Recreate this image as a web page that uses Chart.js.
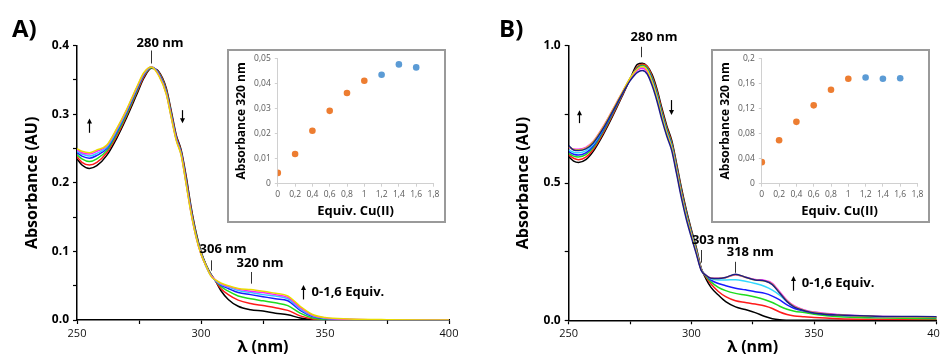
<!DOCTYPE html>
<html>
<head>
<meta charset="utf-8">
<script src="https://cdn.jsdelivr.net/npm/chart.js@4.4.1/dist/chart.umd.min.js"></script>
<style>
  html, body { margin: 0; padding: 0; background: #fff; overflow: hidden; width: 940px; height: 357px; }
  .pane { position: absolute; }
</style>
</head>
<body>
<div class="pane" style="left:0;top:0"><canvas id="mainA" width="470" height="357"></canvas></div>
<div class="pane" style="left:470px;top:0"><canvas id="mainB" width="490" height="357"></canvas></div>
<div class="pane" style="left:227px;top:49px"><canvas id="insetA" width="219" height="174"></canvas></div>
<div class="pane" style="left:711px;top:49px"><canvas id="insetB" width="219" height="174"></canvas></div>
<script>
// ---- panel A spectra (0 -> 1,6 equiv Cu(II)) ----
const wlA = [250, 252, 255, 258, 262, 266, 270, 274, 277, 280, 283, 286, 288, 290, 292, 294, 296, 298, 300, 302, 304, 306, 308, 311, 315, 320, 325, 330, 335, 340, 345, 350, 360, 375, 400];
const absA_black   = [0.235, 0.226, 0.221, 0.225, 0.240, 0.265, 0.295, 0.328, 0.353, 0.367, 0.362, 0.338, 0.305, 0.270, 0.248, 0.210, 0.165, 0.128, 0.100, 0.081, 0.067, 0.056, 0.043, 0.030, 0.020, 0.015, 0.013, 0.010, 0.0075, 0.003, 0.0005, 0, 0, 0, 0];
const absA_red     = [0.238, 0.230, 0.226, 0.230, 0.244, 0.268, 0.298, 0.331, 0.355, 0.368, 0.361, 0.336, 0.302, 0.268, 0.246, 0.207, 0.162, 0.126, 0.099, 0.080, 0.066, 0.056, 0.046, 0.037, 0.029, 0.024, 0.021, 0.018, 0.014, 0.006, 0.0015, 0.0005, 0, 0, 0];
const absA_green   = [0.241, 0.235, 0.231, 0.235, 0.247, 0.271, 0.300, 0.333, 0.357, 0.368, 0.360, 0.334, 0.300, 0.266, 0.244, 0.204, 0.160, 0.125, 0.098, 0.080, 0.066, 0.057, 0.049, 0.042, 0.035, 0.031, 0.028, 0.025, 0.021, 0.010, 0.003, 0.001, 0, 0, 0];
const absA_blue    = [0.244, 0.239, 0.236, 0.240, 0.250, 0.274, 0.303, 0.335, 0.358, 0.369, 0.359, 0.332, 0.298, 0.265, 0.243, 0.202, 0.158, 0.123, 0.097, 0.079, 0.065, 0.057, 0.051, 0.046, 0.040, 0.037, 0.034, 0.031, 0.028, 0.014, 0.005, 0.002, 0.0005, 0, 0];
const absA_cyan    = [0.246, 0.242, 0.239, 0.243, 0.252, 0.276, 0.305, 0.337, 0.359, 0.369, 0.358, 0.331, 0.297, 0.264, 0.242, 0.200, 0.157, 0.122, 0.097, 0.079, 0.065, 0.057, 0.052, 0.048, 0.043, 0.040, 0.037, 0.035, 0.031, 0.016, 0.006, 0.0025, 0.0008, 0, 0];
const absA_magenta = [0.248, 0.244, 0.242, 0.246, 0.254, 0.278, 0.306, 0.338, 0.360, 0.369, 0.357, 0.330, 0.296, 0.263, 0.241, 0.199, 0.156, 0.121, 0.096, 0.079, 0.065, 0.058, 0.053, 0.049, 0.045, 0.042, 0.040, 0.037, 0.033, 0.018, 0.007, 0.003, 0.001, 0, 0];
const absA_yellow  = [0.250, 0.246, 0.244, 0.248, 0.255, 0.279, 0.307, 0.339, 0.361, 0.369, 0.356, 0.329, 0.295, 0.262, 0.240, 0.198, 0.155, 0.121, 0.096, 0.079, 0.064, 0.058, 0.054, 0.050, 0.046, 0.0445, 0.042, 0.039, 0.035, 0.020, 0.008, 0.0035, 0.0015, 0.0005, 0];

// ---- panel B spectra ----
const wlB = [250, 252, 254, 257, 260, 264, 268, 272, 275, 278, 280, 282, 284, 286, 288, 290, 292, 294, 296, 298, 300, 302, 304, 306, 308, 311, 314, 318, 322, 326, 330, 333, 336, 339, 342, 346, 350, 360, 375, 400];
const absB_black   = [0.596, 0.580, 0.575, 0.585, 0.615, 0.675, 0.745, 0.820, 0.878, 0.932, 0.936, 0.925, 0.895, 0.842, 0.772, 0.708, 0.655, 0.570, 0.480, 0.400, 0.330, 0.265, 0.190, 0.150, 0.120, 0.092, 0.068, 0.049, 0.039, 0.028, 0.014, 0.006, 0.002, 0.0005, 0, 0, 0, 0, 0, 0];
const absB_red     = [0.602, 0.590, 0.585, 0.594, 0.622, 0.681, 0.750, 0.823, 0.879, 0.923, 0.932, 0.924, 0.888, 0.834, 0.764, 0.701, 0.648, 0.562, 0.472, 0.393, 0.324, 0.260, 0.188, 0.157, 0.132, 0.105, 0.086, 0.071, 0.065, 0.059, 0.052, 0.043, 0.030, 0.021, 0.016, 0.013, 0.010, 0.006, 0.004, 0.003];
const absB_green   = [0.608, 0.598, 0.595, 0.603, 0.629, 0.687, 0.755, 0.826, 0.880, 0.920, 0.929, 0.920, 0.882, 0.827, 0.757, 0.695, 0.642, 0.556, 0.466, 0.388, 0.320, 0.257, 0.187, 0.160, 0.140, 0.120, 0.108, 0.098, 0.092, 0.085, 0.075, 0.065, 0.051, 0.040, 0.033, 0.028, 0.022, 0.013, 0.009, 0.006];
const absB_blue    = [0.614, 0.605, 0.602, 0.610, 0.635, 0.692, 0.759, 0.828, 0.880, 0.917, 0.925, 0.915, 0.876, 0.820, 0.750, 0.689, 0.636, 0.550, 0.460, 0.383, 0.316, 0.253, 0.186, 0.163, 0.146, 0.134, 0.126, 0.117, 0.111, 0.104, 0.098, 0.088, 0.074, 0.056, 0.043, 0.034, 0.027, 0.018, 0.013, 0.010];
const absB_cyan    = [0.620, 0.612, 0.610, 0.617, 0.641, 0.697, 0.763, 0.830, 0.880, 0.914, 0.922, 0.911, 0.870, 0.814, 0.744, 0.684, 0.631, 0.545, 0.455, 0.378, 0.312, 0.250, 0.185, 0.164, 0.151, 0.147, 0.147, 0.148, 0.142, 0.134, 0.123, 0.110, 0.092, 0.068, 0.050, 0.037, 0.029, 0.020, 0.014, 0.011];
const absB_magenta = [0.628, 0.624, 0.623, 0.630, 0.652, 0.705, 0.768, 0.833, 0.880, 0.911, 0.918, 0.906, 0.864, 0.808, 0.738, 0.679, 0.626, 0.540, 0.451, 0.374, 0.309, 0.247, 0.184, 0.164, 0.154, 0.153, 0.156, 0.165, 0.157, 0.149, 0.145, 0.135, 0.104, 0.073, 0.052, 0.038, 0.030, 0.021, 0.015, 0.012];
const absB_yellow  = [0.632, 0.622, 0.620, 0.627, 0.650, 0.703, 0.767, 0.833, 0.882, 0.915, 0.924, 0.911, 0.868, 0.810, 0.740, 0.680, 0.627, 0.542, 0.452, 0.375, 0.310, 0.248, 0.184, 0.163, 0.153, 0.152, 0.156, 0.167, 0.157, 0.147, 0.143, 0.132, 0.100, 0.070, 0.050, 0.036, 0.028, 0.019, 0.014, 0.011];
const absB_navy    = [0.636, 0.620, 0.618, 0.624, 0.646, 0.698, 0.762, 0.827, 0.872, 0.903, 0.910, 0.897, 0.855, 0.798, 0.730, 0.670, 0.618, 0.532, 0.443, 0.366, 0.302, 0.242, 0.182, 0.163, 0.153, 0.152, 0.156, 0.168, 0.157, 0.147, 0.143, 0.130, 0.099, 0.068, 0.048, 0.035, 0.027, 0.019, 0.015, 0.013];

// ---- insets: absorbance at 320 nm vs equiv ----
const equiv = [0, 0.2, 0.4, 0.6, 0.8, 1.0, 1.2, 1.4, 1.6];
const insetA = [0.0043, 0.0118, 0.0211, 0.0290, 0.0361, 0.0410, 0.0434, 0.0475, 0.0463];
const insetB = [0.0343, 0.0692, 0.0985, 0.1248, 0.1495, 0.1672, 0.1690, 0.1672, 0.1678];

Chart.defaults.font.family = "'Open Sans', sans-serif";
Chart.defaults.color = '#000';

const noteFont = 'bold 13px "Open Sans"';

// texts, small marker lines and arrows drawn at data positions
const notePlugin = {
    id: 'notes',
    afterDatasetsDraw(chart, args, opts) {
        const ctx = chart.ctx;
        const xs = chart.scales.x, ys = chart.scales.y;
        const px = v => xs.getPixelForValue(v);
        const py = v => ys.getPixelForValue(v);
        ctx.save();
        ctx.fillStyle = '#000';
        ctx.font = 'bold 24px "Open Sans"';
        ctx.textBaseline = 'alphabetic';
        ctx.textAlign = 'left';
        ctx.fillText(opts.panel, opts.panelX, 37);

        ctx.font = noteFont;
        ctx.textBaseline = 'middle';
        ctx.textAlign = 'center';
        opts.labels.forEach(l => ctx.fillText(l[0], px(l[1]), py(l[2])));
        ctx.textAlign = 'left';
        ctx.fillText(opts.equiv[0], px(opts.equiv[1]), py(opts.equiv[2]));

        ctx.strokeStyle = '#333';
        ctx.lineWidth = 1;
        opts.marks.forEach(m => {
            ctx.beginPath();
            ctx.moveTo(Math.round(px(m[0])) + 0.5, py(m[1]));
            ctx.lineTo(Math.round(px(m[0])) + 0.5, py(m[2]));
            ctx.stroke();
        });

        ctx.strokeStyle = '#000';
        ctx.lineWidth = 1.2;
        opts.arrows.forEach(a => {
            const x = Math.round(px(a[0])) + 0.5, y1 = py(a[1]), y2 = py(a[2]);
            const dir = y2 < y1 ? 1 : -1;
            ctx.beginPath();
            ctx.moveTo(x, y1);
            ctx.lineTo(x, y2 + dir * 3);
            ctx.stroke();
            ctx.beginPath();
            ctx.moveTo(x, y2);
            ctx.lineTo(x - 2.5, y2 + dir * 5);
            ctx.lineTo(x + 2.5, y2 + dir * 5);
            ctx.closePath();
            ctx.fill();
        });
        ctx.restore();
    }
};

function makeSpectrum(id, wl, series, colors, yMax, yStep, yLabelStep, box, notes) {
    const n = series.length;
    const datasets = series.map((vals, i) => ({
        data: wl.map((w, j) => ({ x: w, y: vals[j] })),
        borderColor: colors[i],
        borderWidth: 1.5,
        pointRadius: 0,
        cubicInterpolationMode: 'monotone',
        fill: false,
        order: n - i
    }));
    return new Chart(document.getElementById(id), {
        type: 'line',
        data: { datasets },
        options: {
            responsive: false,
            animation: false,
            layout: { padding: { left: 0, top: box.top, right: box.right, bottom: 0 } },
            plugins: { legend: { display: false }, tooltip: { enabled: false }, notes },
            scales: {
                x: {
                    type: 'linear', min: 250, max: 400,
                    afterFit: s => { s.height = box.xh; },
                    ticks: {
                        stepSize: 25, autoSkip: false, maxRotation: 0, padding: 3,
                        font: { size: 11 }, color: '#111',
                        callback: v => (v % 50 === 0 ? v : '')
                    },
                    grid: { drawOnChartArea: false, tickLength: 4, tickColor: '#000', tickWidth: 1.2 },
                    border: { color: '#000', width: 1.5 },
                    title: { display: true, text: 'λ (nm)', font: { size: 16, weight: 'bold' }, padding: { top: 0, bottom: 0 } }
                },
                y: {
                    min: 0, max: yMax,
                    afterFit: s => { s.width = box.yw; },
                    ticks: {
                        stepSize: yStep, padding: 4,
                        font: { size: 12, weight: 'bold' },
                        callback: v => (Math.round(v * 100) % Math.round(yLabelStep * 100) === 0 ? v.toFixed(1) : '')
                    },
                    grid: { drawOnChartArea: false, tickLength: 4, tickColor: '#000', tickWidth: 1.2 },
                    border: { color: '#000', width: 1.5 },
                    title: { display: true, text: 'Absorbance (AU)', font: { size: 16, weight: 'bold' }, padding: { top: box.titleX - 9.6, bottom: 0 } }
                }
            }
        },
        plugins: [notePlugin]
    });
}

const framePlugin = {
    id: 'frame',
    beforeDraw(chart) {
        const ctx = chart.ctx;
        ctx.save();
        ctx.fillStyle = '#fff';
        ctx.fillRect(0, 0, chart.width, chart.height);
        ctx.strokeStyle = '#9a9a9a';
        ctx.lineWidth = 2;
        ctx.strokeRect(1, 1, chart.width - 2, chart.height - 2);
        ctx.restore();
    }
};

const commaFmt = v => String(+v.toFixed(3)).replace('.', ',');

function makeInset(id, vals, yMax, yStep) {
    return new Chart(document.getElementById(id), {
        type: 'scatter',
        data: {
            datasets: [{
                data: equiv.map((e, i) => ({ x: e, y: vals[i] })),
                pointRadius: 3.3,
                pointBorderWidth: 0,
                pointBackgroundColor: equiv.map(e => (e > 1.05 ? '#5b9bd5' : '#ed7d31'))
            }]
        },
        options: {
            responsive: false,
            animation: false,
            layout: { padding: { left: 0, top: 8.3, right: 12.5, bottom: 0 } },
            plugins: { legend: { display: false }, tooltip: { enabled: false } },
            scales: {
                x: {
                    type: 'linear', min: 0, max: 1.8,
                    afterFit: s => { s.height = 39.3; },
                    ticks: { stepSize: 0.2, autoSkip: false, maxRotation: 0, padding: 3, font: { size: 8.5 }, color: '#595959', callback: commaFmt },
                    grid: { drawOnChartArea: false, tickLength: 3, tickColor: '#d0d0d0' },
                    border: { color: '#d0d0d0', width: 1 },
                    title: { display: true, text: 'Equiv. Cu(II)', font: { size: 13, weight: 'bold' }, padding: { top: 0, bottom: 3.5 } }
                },
                y: {
                    min: 0, max: yMax,
                    afterFit: s => { s.width = 50.8; },
                    ticks: { stepSize: yStep, padding: 4, font: { size: 8.5 }, color: '#595959', callback: commaFmt },
                    grid: { drawOnChartArea: false, tickLength: 3, tickColor: '#d0d0d0' },
                    border: { color: '#d0d0d0', width: 1 },
                    title: { display: true, text: 'Absorbance 320 nm', font: { size: 12, weight: 'bold' }, padding: { top: 7, bottom: 0 } }
                }
            }
        },
        plugins: [framePlugin]
    });
}

makeSpectrum('mainA',
    wlA,
    [absA_black, absA_red, absA_green, absA_blue, absA_cyan, absA_magenta, absA_yellow],
    ['#000000', '#ff1a1a', '#1fdc1f', '#1a1aff', '#33c8ff', '#ff1aff', '#e8dc00'],
    0.4, 0.05, 0.1,
    { top: 45.7, right: 21, xh: 37, yw: 77, titleX: 32 },
    {
        panel: 'A)', panelX: 12,
        labels: [['280 nm', 283.5, 0.403], ['306 nm', 308.9, 0.103], ['320 nm', 323.8, 0.083]],
        marks: [[279.8, 0.393, 0.374], [303.9, 0.087, 0.072], [320.0, 0.070, 0.053]],
        arrows: [[254.8, 0.273, 0.294], [292.2, 0.306, 0.287], [341.2, 0.030, 0.051]],
        equiv: ['0-1,6 Equiv.', 344.6, 0.040]
    });

makeSpectrum('mainB',
    wlB,
    [absB_black, absB_red, absB_green, absB_blue, absB_cyan, absB_magenta, absB_yellow, absB_navy],
    ['#000000', '#ff1a1a', '#1fdc1f', '#1a1aff', '#33d8ff', '#ff1aff', '#f0e000', '#1c1c8c'],
    1.0, 0.25, 0.5,
    { top: 45.7, right: 23.3, xh: 36.7, yw: 98.7, titleX: 53.3 },
    {
        panel: 'B)', panelX: 29,
        labels: [['280 nm', 284.8, 1.032], ['303 nm', 309.8, 0.292], ['318 nm', 324.0, 0.246]],
        marks: [[279.5, 0.996, 0.958], [303.8, 0.256, 0.210], [317.8, 0.213, 0.173]],
        arrows: [[254.3, 0.718, 0.765], [291.8, 0.802, 0.748], [341.3, 0.108, 0.161]],
        equiv: ['0-1,6 Equiv.', 345.0, 0.135]
    });

makeInset('insetA', insetA, 0.05, 0.01);
makeInset('insetB', insetB, 0.2, 0.04);
</script>
</body>
</html>
